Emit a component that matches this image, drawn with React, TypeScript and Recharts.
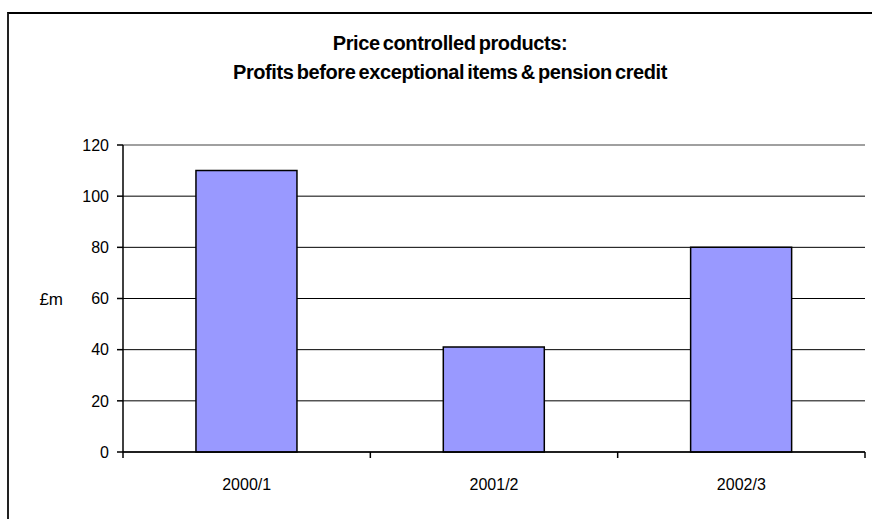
import { BarChart, Bar, CartesianGrid, XAxis, YAxis, ReferenceLine } from "recharts";

const categories = ["2000/1", "2001/2", "2002/3"];
const profits = [110, 41, 80];
const yTicks = [0, 20, 40, 60, 80, 100, 120];

const data = categories.map((period, i) => ({ period, profit: profits[i] }));

const W = 872;
const H = 519;
const margin = { top: 145, right: 7, bottom: 37, left: 63 };
const yAxisWidth = 60;
const band = (W - margin.left - yAxisWidth - margin.right) / categories.length;

const font = "'Liberation Sans', Arial, sans-serif";

function XTick(props: any) {
  const { x, y, payload, index } = props;
  const left = x - band / 2;
  const right = x + band / 2;
  return (
    <g>
      <line x1={left} y1={y} x2={left} y2={y + 6} stroke="#000" strokeWidth={1.5} />
      {index === categories.length - 1 && (
        <line x1={right} y1={y} x2={right} y2={y + 6} stroke="#000" strokeWidth={1.5} />
      )}
      <text x={x} y={y + 38} textAnchor="middle" fontSize={16} fontFamily={font} fill="#000">
        {payload.value}
      </text>
    </g>
  );
}

export default function App() {
  return (
    <div style={{ position: "fixed", left: 0, top: 0, width: W, height: H, overflow: "hidden", background: "#fff" }}>
      <div
        style={{
          position: "absolute",
          left: 7,
          top: 12,
          width: 1000,
          height: 1000,
          borderLeft: "2px solid #222",
          borderTop: "2px solid #000",
        }}
      />
      <div
        style={{
          position: "absolute",
          left: 0,
          top: 29,
          width: 900,
          textAlign: "center",
          fontFamily: font,
          fontWeight: "bold",
          fontSize: 20,
          letterSpacing: -0.4,
          wordSpacing: -2,
          lineHeight: "29px",
          color: "#000",
        }}
      >
        Price controlled products:
        <br />
        Profits before exceptional items &amp; pension credit
      </div>
      <div style={{ position: "absolute", left: 0, top: 0 }}>
        <BarChart width={W} height={H} data={data} margin={margin} barCategoryGap="29.5%">
          <CartesianGrid vertical={false} stroke="#000" strokeWidth={1} />
          <XAxis
            dataKey="period"
            height={30}
            tickSize={0}
            tickMargin={0}
            axisLine={{ stroke: "#000", strokeWidth: 1.5 }}
            tick={<XTick />}
          />
          <YAxis
            width={yAxisWidth}
            domain={[0, 120]}
            ticks={yTicks}
            tickSize={6}
            tickMargin={8}
            axisLine={{ stroke: "#000", strokeWidth: 1.5 }}
            tickLine={{ stroke: "#000", strokeWidth: 1.5 }}
            tick={{ fill: "#000", fontSize: 16, fontFamily: font }}
            label={{ value: "£m", position: "left", offset: 0, fill: "#000", fontSize: 17, fontFamily: font }}
          />
          <YAxis
            yAxisId="frame"
            orientation="right"
            width={0}
            domain={[0, 120]}
            tick={false}
            tickLine={false}
            axisLine={{ stroke: "#a0a0a0", strokeWidth: 2 }}
          />
          <ReferenceLine y={120} stroke="#a0a0a0" strokeWidth={2} />
          <Bar dataKey="profit" fill="#9999ff" stroke="#000" strokeWidth={1.5} isAnimationActive={false} />
        </BarChart>
      </div>
    </div>
  );
}
